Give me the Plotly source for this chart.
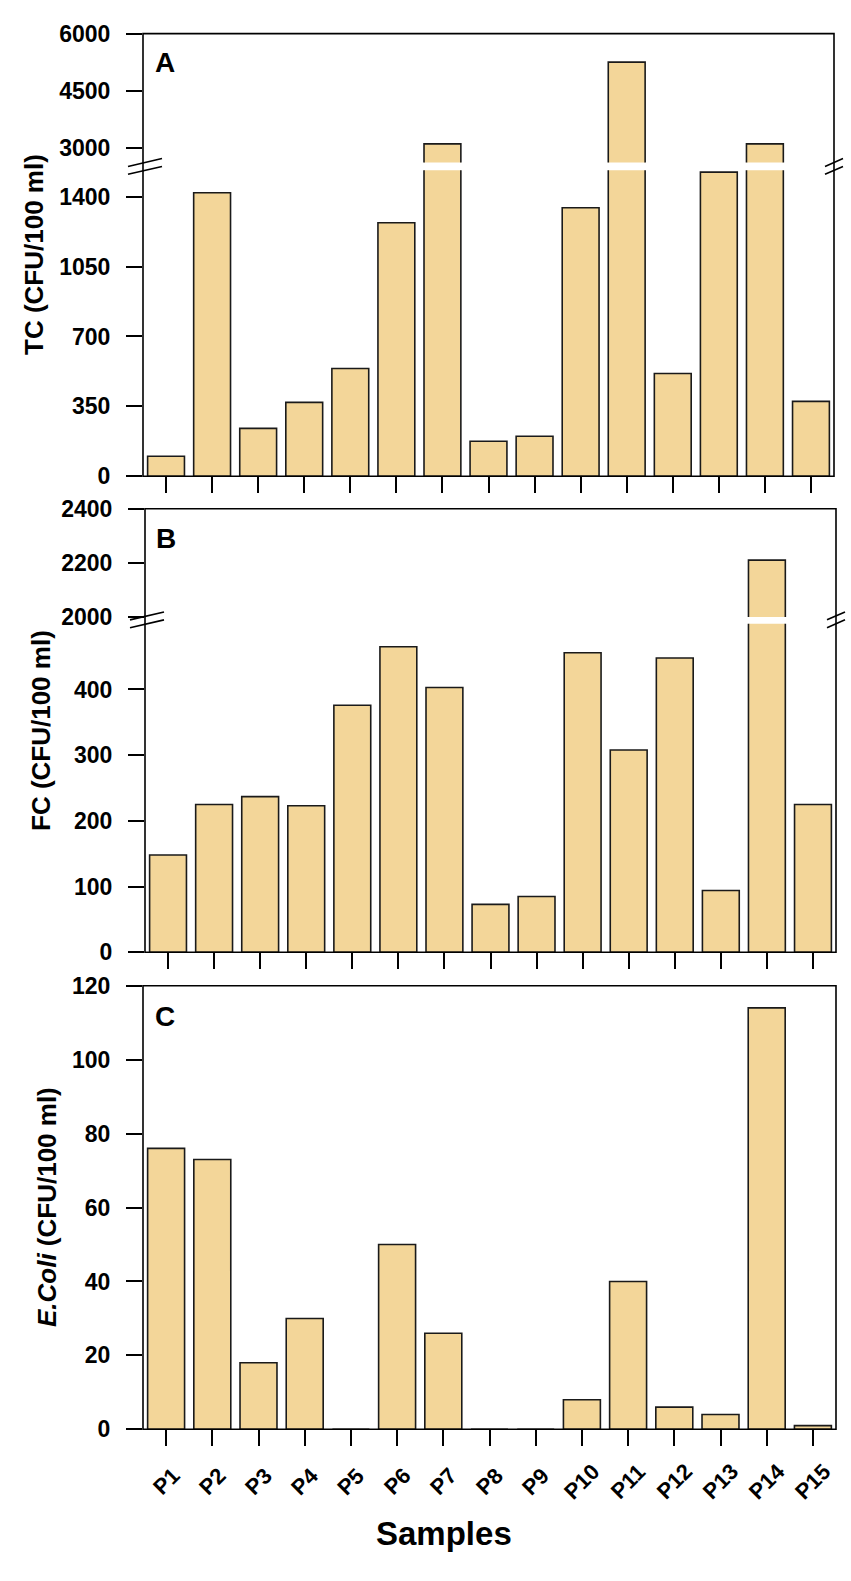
import plotly.graph_objects as go

# --- data ---
samples = ["P1", "P2", "P3", "P4", "P5", "P6", "P7", "P8", "P9", "P10",
           "P11", "P12", "P13", "P14", "P15"]
tc = [100, 1420, 240, 370, 540, 1270, 3100, 175, 200, 1345, 5250, 515, 1523, 3100, 375]
fc = [148, 225, 237, 223, 376, 465, 403, 73, 85, 456, 308, 448, 94, 2210, 225]
ecoli = [76, 73, 18, 30, 0, 50, 26, 0, 0, 8, 40, 6, 4, 114, 1]

tc_low_ticks = [0, 350, 700, 1050, 1400]
tc_high_ticks = [3000, 4500, 6000]
fc_low_ticks = [0, 100, 200, 300, 400]
fc_high_ticks = [2000, 2200, 2400]
ecoli_ticks = [0, 20, 40, 60, 80, 100, 120]

W, H = 851, 1581
BAR = "#F3D699"
EDGE = "#1a1a1a"
FONT = "Liberation Sans"


def px(x):
    return x / W


def py(y):
    return 1 - y / H


def yaxis(top, bottom, rng, ticks, anchor):
    return dict(domain=[py(bottom), py(top)], range=rng, tickvals=ticks,
                ticks="outside", ticklen=16, tickwidth=1.6, tickcolor="black",
                showline=False, showgrid=False, zeroline=False, anchor=anchor,
                ticklabelstandoff=11,
                tickfont=dict(family=FONT, size=23, color="black", weight="bold"))


def xaxis(left, right, anchor, visible=True):
    return dict(domain=[px(left), px(right)], type="category",
                categoryorder="array", categoryarray=samples, range=[-0.5, 14.5],
                ticks="outside" if visible else "", ticklen=16, tickwidth=1.6,
                tickcolor="black", showticklabels=False, showline=False,
                showgrid=False, zeroline=False, anchor=anchor, visible=visible)


def bars(values, xa, ya):
    return go.Bar(x=samples, y=values, xaxis=xa, yaxis=ya, width=0.8,
                  marker=dict(color=BAR, line=dict(color=EDGE, width=1.6)),
                  showlegend=False, hoverinfo="x+y")


fig = go.Figure()

# panel A (broken axis): upper and lower segments
fig.add_trace(bars(tc, "x2", "y"))
fig.add_trace(bars(tc, "x", "y2"))
# panel B (broken axis)
fig.add_trace(bars(fc, "x4", "y3"))
fig.add_trace(bars(fc, "x3", "y4"))
# panel C
fig.add_trace(bars(ecoli, "x5", "y5"))

fig.update_layout(
    width=W, height=H, margin=dict(l=0, r=0, t=0, b=0),
    paper_bgcolor="white", plot_bgcolor="rgba(0,0,0,0)",
    bargap=0.2, showlegend=False,
    xaxis=xaxis(143, 834, "y2"),
    xaxis2=xaxis(143, 834, "y", visible=False),
    yaxis=yaxis(21, 152, [2610, 6000], tc_high_ticks, "x2"),
    yaxis2=yaxis(160, 471, [0, 1532], tc_low_ticks, "x"),
    xaxis3=xaxis(145, 836, "y4"),
    xaxis4=xaxis(145, 836, "y3", visible=False),
    yaxis3=yaxis(504, 614, [2000, 2400], fc_high_ticks, "x4"),
    yaxis4=yaxis(621, 955, [0, 500], fc_low_ticks, "x3"),
    xaxis5=xaxis(143, 836, "y5"),
    yaxis5=yaxis(989, 1440, [0, 120], ecoli_ticks, "x5"),
)

shapes = []
# panel frames
for l, r, t, b in [(143, 834, 21, 471), (145, 836, 504, 955), (143, 836, 989, 1440)]:
    shapes.append(dict(type="rect", xref="paper", yref="paper", layer="above",
                       x0=px(l), x1=px(r), y0=py(b), y1=py(t),
                       line=dict(color="black", width=1.6)))
# axis break marks
for g, xl, xr in [(156, 143, 834), (617, 145, 836)]:
    for off in (0, 8):
        shapes.append(dict(type="line", xref="paper", yref="paper", layer="above",
                           x0=px(xl - 15), y0=py(g + off), x1=px(xl + 19), y1=py(g + off - 8),
                           line=dict(color="black", width=1.6)))
        shapes.append(dict(type="line", xref="paper", yref="paper", layer="above",
                           x0=px(xr - 9), y0=py(g + off), x1=px(xr + 9), y1=py(g + off - 8),
                           line=dict(color="black", width=1.6)))
fig.update_layout(shapes=shapes)

ann = []
for letter, x, y in [("A", 165, 50), ("B", 166, 534), ("C", 165, 1020)]:
    ann.append(dict(text=f"<b>{letter}</b>", x=px(x), y=py(y), xref="paper", yref="paper",
                    showarrow=False, xanchor="center", yanchor="middle",
                    font=dict(family=FONT, size=28, color="black")))
for title, x, y in [("<b>TC (CFU/100 ml)</b>", 34, 246),
                    ("<b>FC (CFU/100 ml)</b>", 41, 730),
                    ("<b><i>E.Coli</i> (CFU/100 ml)</b>", 47, 1214)]:
    ann.append(dict(text=title, x=px(x), y=py(y), xref="paper", yref="paper",
                    showarrow=False, textangle=-90, xanchor="center", yanchor="middle",
                    font=dict(family=FONT, size=26, color="black")))
# rotated sample labels, centred under each tick
for s in samples:
    ann.append(dict(text=f"<b>{s}</b>", x=s, xref="x5", y=py(1493), yref="paper",
                    showarrow=False, textangle=-45, xanchor="center", yanchor="middle",
                    font=dict(family=FONT, size=22, color="black")))
ann.append(dict(text="<b>Samples</b>", x=px(444), y=py(1546), xref="paper", yref="paper",
                showarrow=False, xanchor="center", yanchor="middle",
                font=dict(family=FONT, size=33, color="black")))
fig.update_layout(annotations=ann)

fig.write_html("out.html", config={"displayModeBar": False},
               post_script="document.body.style.margin='0px';"
                           "document.body.style.overflow='hidden';")
